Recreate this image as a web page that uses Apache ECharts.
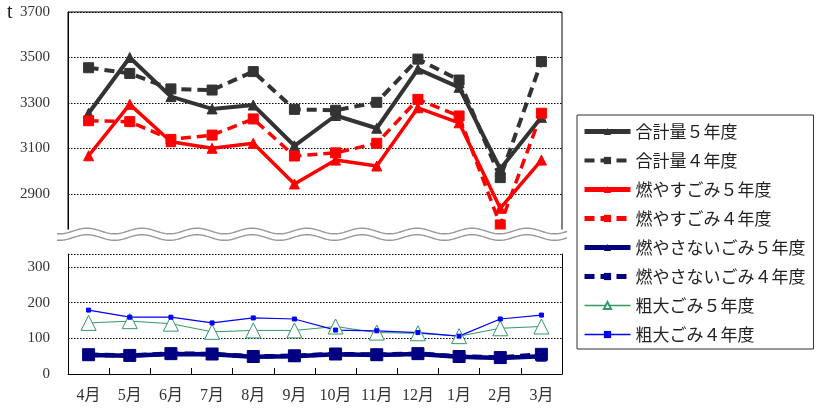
<!DOCTYPE html>
<html><head><meta charset="utf-8">
<script src="https://cdn.jsdelivr.net/npm/echarts@6/dist/echarts.min.js"></script>
<style>html,body{margin:0;padding:0;background:#fff}#c{width:818px;height:411px}</style>
</head><body><div id="c"></div>
<script>
const months = ['4月','5月','6月','7月','8月','9月','10月','11月','12月','1月','2月','3月'];
const totalR5 = [3255,3500,3328,3274,3291,3112,3245,3189,3449,3369,3010,3237];
const totalR4 = [3455,3430,3362,3357,3438,3272,3268,3303,3493,3401,2972,3482];
const burnR5 = [3068,3294,3130,3101,3123,2944,3049,3023,3279,3213,2837,3049];
const burnR4 = [3222,3218,3140,3159,3230,3067,3081,3123,3316,3243,2764,3255];
const nonBurnR5 = [53,51,56,55,48,50,55,53,56,48,45,50];
const nonBurnR4 = [54,52,57,56,49,51,56,54,57,49,46,55];
const bulkyR5 = [143,148,141,118,122,122,133,116,114,106,128,133];
const bulkyR4 = [179,159,159,143,157,154,123,121,116,106,154,165];
const names = ['合計量５年度','合計量４年度','燃やすごみ５年度','燃やすごみ４年度','燃やさないごみ５年度','燃やさないごみ４年度','粗大ごみ５年度','粗大ごみ４年度'];

const serif = "'Liberation Serif','Noto Sans CJK JP',serif";
const lblColor = '#333';

function wavePoints(x0, x1, yc, amp, period, phaseX) {
  const pts = [];
  for (let x = x0; x <= x1; x += 1) {
    pts.push([x, yc - amp * Math.cos(2 * Math.PI * (x - phaseX) / period)]);
  }
  return pts;
}

const chart = echarts.init(document.getElementById('c'));
const dark = '#333333', red = '#ff0000', navy = '#000080', green = '#339966', blue = '#0000ff';

function ser(name, data, grid, color, width, dashed, symbol, size, extra) {
  return Object.assign({
    name, type: 'line', data, xAxisIndex: grid, yAxisIndex: grid === 0 ? 0 : 1,
    symbol, symbolSize: size, showSymbol: true,
    lineStyle: { color, width, type: dashed ? [10, 6] : 'solid' },
    itemStyle: { color, borderColor: color },
    animation: false
  }, extra || {});
}
const legendWidths = [5, 4, 5, 5, 5, 5, 1.5, 1.5];
const legendData = names.map((n, i) => ({ name: n, lineStyle: { width: legendWidths[i] } }));

chart.setOption({
  animation: false,
  backgroundColor: '#fff',
  grid: [
    { left: 68, top: 12, width: 494, height: 227.5, show: true, borderColor: '#000', borderWidth: 1, backgroundColor: 'transparent' },
    { left: 68, top: 254, width: 494, height: 120 }
  ],
  xAxis: [
    { type: 'category', data: months, gridIndex: 0, show: false, boundaryGap: true },
    { type: 'category', data: months, gridIndex: 1, boundaryGap: true,
      axisLine: { lineStyle: { color: '#000', width: 1 } },
      axisTick: { show: true, inside: true, length: 6, interval: 0, lineStyle: { color: '#000' } },
      axisLabel: { color: lblColor, fontFamily: serif, fontSize: 16, margin: 14, interval: 0 } }
  ],
  yAxis: [
    { type: 'value', gridIndex: 0, min: 2700, max: 3700, interval: 200,
      axisLine: { show: true, lineStyle: { color: '#000' } }, axisTick: { show: false },
      axisLabel: { color: lblColor, fontFamily: serif, fontSize: 15, margin: 18,
        formatter: v => v === 2700 ? '' : String(v) },
      splitLine: { show: true, lineStyle: { color: '#000', type: [1.5, 1.5], width: 1 } } },
    { type: 'value', gridIndex: 1, min: 0, max: 336, interval: 100,
      axisLine: { show: true, lineStyle: { color: '#000' } }, axisTick: { show: false },
      axisLabel: { color: lblColor, fontFamily: serif, fontSize: 15, margin: 18,
        formatter: v => v > 300 ? '' : String(v) },
      splitLine: { show: true, lineStyle: { color: '#000', type: [1.5, 1.5], width: 1 } } },
    { type: 'value', gridIndex: 1, min: 0, max: 336, position: 'right',
      axisLine: { show: true, lineStyle: { color: '#000' } }, axisTick: { show: false },
      axisLabel: { show: false }, splitLine: { show: false } }
  ],
  legend: {
    orient: 'vertical', left: 577, top: 115, data: legendData,
    backgroundColor: '#fff', borderColor: '#333', borderWidth: 1,
    padding: [8, 8, 6, 5], itemGap: 12, itemWidth: 46, itemHeight: 9,
    textStyle: { fontFamily: "'Noto Sans CJK JP',sans-serif", fontSize: 17, lineHeight: 17, color: '#222' }
  },
  series: [
    ser(names[0], totalR5, 0, dark, 4, false, 'triangle', 10),
    ser(names[1], totalR4, 0, dark, 4, true, 'rect', 10),
    ser(names[2], burnR5, 0, red, 3.5, false, 'triangle', 10),
    ser(names[3], burnR4, 0, red, 3.5, true, 'rect', 10),
    ser(names[4], nonBurnR5, 1, navy, 4.5, false, 'triangle', 10),
    ser(names[5], nonBurnR4, 1, navy, 4.5, true, 'rect', 12),
    ser(names[6], bulkyR5, 1, green, 1, false, 'triangle', 15, { itemStyle: { color: '#fff', borderColor: green, borderWidth: 1 } }),
    ser(names[7], bulkyR4, 1, blue, 1.2, false, 'rect', 4)
  ],
  graphic: [
    { type: 'rect', shape: { x: 55, y: 229.5, width: 516, height: 13 }, style: { fill: '#fff' }, z: 100 },
    { type: 'polyline', shape: { points: wavePoints(57, 567, 231, 2.8, 55, 87) }, style: { fill: null, stroke: '#999', lineWidth: 1.4 }, z: 101 },
    { type: 'polyline', shape: { points: wavePoints(57, 567, 237.5, 2.8, 55, 87) }, style: { fill: null, stroke: '#999', lineWidth: 1.4 }, z: 101 },
    { type: 'text', x: 7, y: 3, style: { text: 't', font: "20px 'Liberation Serif', serif", fill: '#222' }, z: 101 }
  ]
});
</script></body></html>
